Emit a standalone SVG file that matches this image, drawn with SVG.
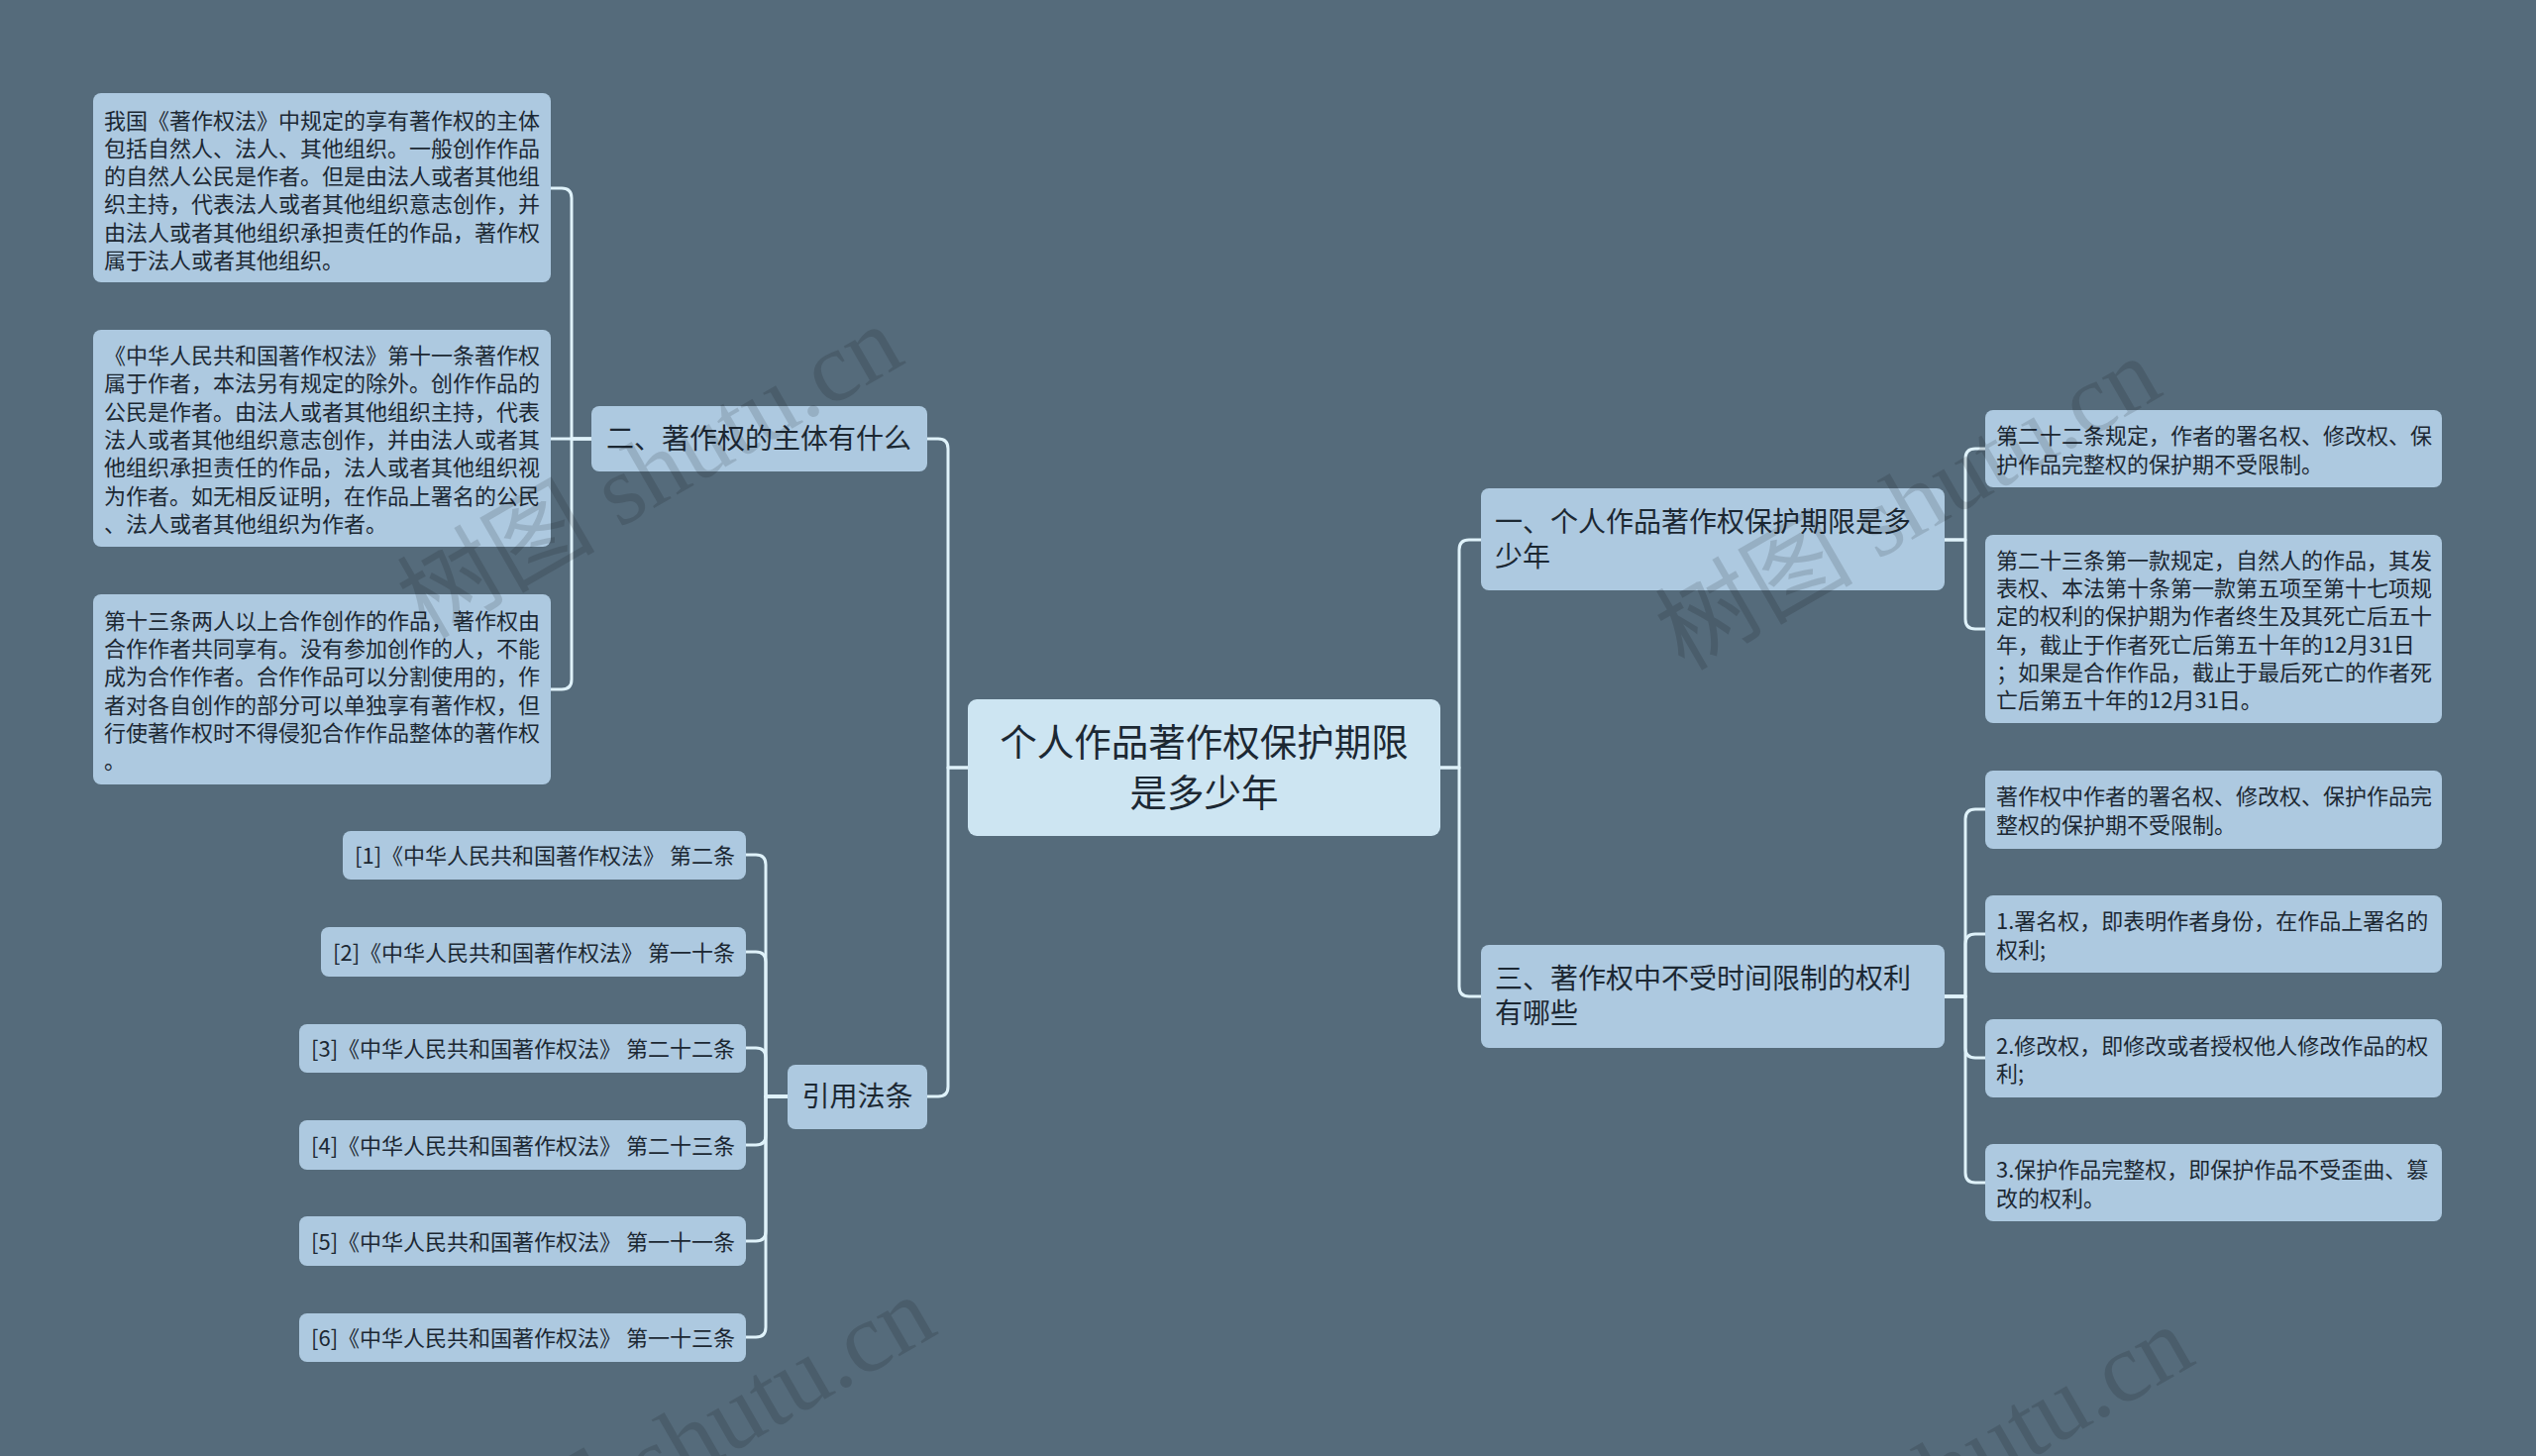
<svg xmlns="http://www.w3.org/2000/svg" width="2560" height="1470" viewBox="0 0 2560 1470">
<style>
.bg{fill:#556b7b}
.box{fill:#adc9e0}
.root{fill:#cde5f2}
.t{font-family:"Noto Sans CJK SC","Noto Sans",sans-serif;fill:#1c2833}
.s{font-size:22px}
.m{font-size:28px}
.l{font-size:37.5px}
.c{fill:none;stroke:#dff2fa;stroke-width:3;stroke-linecap:round;stroke-linejoin:round}
.wm{font-family:"Liberation Serif","Noto Sans CJK SC",serif;font-size:100px;fill:#000;fill-opacity:0.13}
</style>
<rect class="bg" x="0" y="0" width="2560" height="1470"/>
<g id="connectors">
<path class="c" d="M597 443H577V200Q577 190 567 190H556"/>
<path class="c" d="M597 443H556"/>
<path class="c" d="M597 443H577V686Q577 696 567 696H556"/>
<path class="c" d="M977 775H957V453Q957 443 947 443H936"/>
<path class="c" d="M977 775H957V1097Q957 1107 947 1107H936"/>
<path class="c" d="M795 1107H773V873Q773 863 763 863H753"/>
<path class="c" d="M795 1107H773V971Q773 961 763 961H753"/>
<path class="c" d="M795 1107H773V1068Q773 1058 763 1058H753"/>
<path class="c" d="M795 1107H773V1146Q773 1156 763 1156H753"/>
<path class="c" d="M795 1107H773V1243Q773 1253 763 1253H753"/>
<path class="c" d="M795 1107H773V1340Q773 1350 763 1350H753"/>
<path class="c" d="M1454 775H1473V555Q1473 545 1483 545H1495"/>
<path class="c" d="M1454 775H1473V996Q1473 1006 1483 1006H1495"/>
<path class="c" d="M1963 545H1984V463Q1984 453 1994 453H2004"/>
<path class="c" d="M1963 545H1984V625Q1984 635 1994 635H2004"/>
<path class="c" d="M1963 1006H1984V827Q1984 817 1994 817H2004"/>
<path class="c" d="M1963 1006H1984V953Q1984 943 1994 943H2004"/>
<path class="c" d="M1963 1006H1984V1058Q1984 1068 1994 1068H2004"/>
<path class="c" d="M1963 1006H1984V1184Q1984 1194 1994 1194H2004"/>
</g>
<g id="root">
<rect class="root" x="977" y="706" width="477" height="138" rx="9"/>
<text class="t l" text-anchor="middle"><tspan x="1215.5" y="763">个人作品著作权保护期限</tspan><tspan x="1215.5" y="814">是多少年</tspan></text>
</g>
<g id="n2">
<rect class="box" x="597" y="410" width="339" height="66" rx="8"/>
<text class="t m" x="612" y="453">二、著作权的主体有什么</text>
</g>
<g id="l1">
<rect class="box" x="94" y="94" width="462" height="191" rx="8"/>
<text class="t s"><tspan x="105" y="129.5">我国《著作权法》中规定的享有著作权的主体</tspan><tspan x="105" y="157.8">包括自然人、法人、其他组织。一般创作作品</tspan><tspan x="105" y="186.1">的自然人公民是作者。但是由法人或者其他组</tspan><tspan x="105" y="214.4">织主持，代表法人或者其他组织意志创作，并</tspan><tspan x="105" y="242.7">由法人或者其他组织承担责任的作品，著作权</tspan><tspan x="105" y="271">属于法人或者其他组织。</tspan></text>
</g>
<g id="l2">
<rect class="box" x="94" y="333" width="462" height="219" rx="8"/>
<text class="t s"><tspan x="105" y="367">《中华人民共和国著作权法》第十一条著作权</tspan><tspan x="105" y="395.3">属于作者，本法另有规定的除外。创作作品的</tspan><tspan x="105" y="423.6">公民是作者。由法人或者其他组织主持，代表</tspan><tspan x="105" y="451.9">法人或者其他组织意志创作，并由法人或者其</tspan><tspan x="105" y="480.2">他组织承担责任的作品，法人或者其他组织视</tspan><tspan x="105" y="508.5">为作者。如无相反证明，在作品上署名的公民</tspan><tspan x="105" y="536.8">、法人或者其他组织为作者。</tspan></text>
</g>
<g id="l3">
<rect class="box" x="94" y="600" width="462" height="192" rx="8"/>
<text class="t s"><tspan x="105" y="634.7">第十三条两人以上合作创作的作品，著作权由</tspan><tspan x="105" y="663">合作作者共同享有。没有参加创作的人，不能</tspan><tspan x="105" y="691.3">成为合作作者。合作作品可以分割使用的，作</tspan><tspan x="105" y="719.6">者对各自创作的部分可以单独享有著作权，但</tspan><tspan x="105" y="747.9">行使著作权时不得侵犯合作作品整体的著作权</tspan><tspan x="105" y="776.2">。</tspan></text>
</g>
<g id="ref">
<rect class="box" x="795" y="1075" width="141" height="65" rx="8"/>
<text class="t m" x="865.5" y="1117" text-anchor="middle">引用法条</text>
</g>
<g id="r1"><rect class="box" x="346" y="839" width="407" height="49" rx="8"/><text class="t s" x="742" y="871.5" text-anchor="end">[1]《中华人民共和国著作权法》 第二条</text></g>
<g id="r2"><rect class="box" x="324" y="936" width="429" height="50" rx="8"/><text class="t s" x="742" y="969.5" text-anchor="end">[2]《中华人民共和国著作权法》 第一十条</text></g>
<g id="r3"><rect class="box" x="302" y="1034" width="451" height="49" rx="8"/><text class="t s" x="742" y="1066.5" text-anchor="end">[3]《中华人民共和国著作权法》 第二十二条</text></g>
<g id="r4"><rect class="box" x="302" y="1131" width="451" height="50" rx="8"/><text class="t s" x="742" y="1164.5" text-anchor="end">[4]《中华人民共和国著作权法》 第二十三条</text></g>
<g id="r5"><rect class="box" x="302" y="1228" width="451" height="50" rx="8"/><text class="t s" x="742" y="1261.5" text-anchor="end">[5]《中华人民共和国著作权法》 第一十一条</text></g>
<g id="r6"><rect class="box" x="302" y="1326" width="451" height="49" rx="8"/><text class="t s" x="742" y="1358.5" text-anchor="end">[6]《中华人民共和国著作权法》 第一十三条</text></g>
<g id="n1">
<rect class="box" x="1495" y="493" width="468" height="103" rx="8"/>
<text class="t m"><tspan x="1509" y="537">一、个人作品著作权保护期限是多</tspan><tspan x="1509" y="572">少年</tspan></text>
</g>
<g id="n3">
<rect class="box" x="1495" y="954" width="468" height="104" rx="8"/>
<text class="t m"><tspan x="1509" y="998">三、著作权中不受时间限制的权利</tspan><tspan x="1509" y="1033">有哪些</tspan></text>
</g>
<g id="ra">
<rect class="box" x="2004" y="414" width="461" height="78" rx="8"/>
<text class="t s"><tspan x="2015" y="448.3">第二十二条规定，作者的署名权、修改权、保</tspan><tspan x="2015" y="476.6">护作品完整权的保护期不受限制。</tspan></text>
</g>
<g id="rb">
<rect class="box" x="2004" y="540" width="461" height="190" rx="8"/>
<text class="t s"><tspan x="2015" y="573.8">第二十三条第一款规定，自然人的作品，其发</tspan><tspan x="2015" y="602.1">表权、本法第十条第一款第五项至第十七项规</tspan><tspan x="2015" y="630.4">定的权利的保护期为作者终生及其死亡后五十</tspan><tspan x="2015" y="658.7">年，截止于作者死亡后第五十年的12月31日</tspan><tspan x="2015" y="687">；如果是合作作品，截止于最后死亡的作者死</tspan><tspan x="2015" y="715.3">亡后第五十年的12月31日。</tspan></text>
</g>
<g id="rc">
<rect class="box" x="2004" y="778" width="461" height="79" rx="8"/>
<text class="t s"><tspan x="2015" y="812.3">著作权中作者的署名权、修改权、保护作品完</tspan><tspan x="2015" y="840.6">整权的保护期不受限制。</tspan></text>
</g>
<g id="rd">
<rect class="box" x="2004" y="904" width="461" height="78" rx="8"/>
<text class="t s"><tspan x="2015" y="938.3">1.署名权，即表明作者身份，在作品上署名的</tspan><tspan x="2015" y="966.6">权利;</tspan></text>
</g>
<g id="re">
<rect class="box" x="2004" y="1029" width="461" height="79" rx="8"/>
<text class="t s"><tspan x="2015" y="1063.8">2.修改权，即修改或者授权他人修改作品的权</tspan><tspan x="2015" y="1092.1">利;</tspan></text>
</g>
<g id="rf">
<rect class="box" x="2004" y="1155" width="461" height="78" rx="8"/>
<text class="t s"><tspan x="2015" y="1189.3">3.保护作品完整权，即保护作品不受歪曲、篡</tspan><tspan x="2015" y="1217.6">改的权利。</tspan></text>
</g>
<g id="watermarks">
<text class="wm" x="657" y="510" text-anchor="middle" transform="rotate(-30 657 478)">树图 shutu.cn</text>
<text class="wm" x="1927" y="542" text-anchor="middle" transform="rotate(-30 1927 510)">树图 shutu.cn</text>
<text class="wm" x="690" y="1490" text-anchor="middle" transform="rotate(-30 690 1458)">树图 shutu.cn</text>
<text class="wm" x="1960" y="1520" text-anchor="middle" transform="rotate(-30 1960 1488)">树图 shutu.cn</text>
</g>
</svg>
